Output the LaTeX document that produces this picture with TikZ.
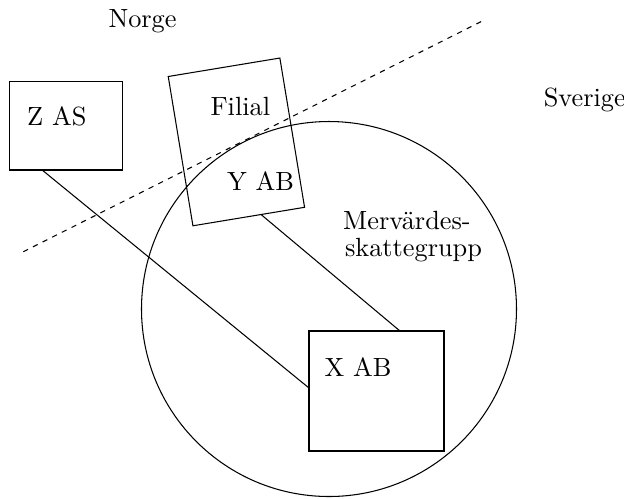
\documentclass[tikz,border=0pt]{standalone}
\usepackage{tikz}
\usetikzlibrary{calc,positioning}
\tikzstyle{block} = [draw, rectangle, inner sep=0pt, outer sep=0pt]
\tikzstyle{momsgrupp} = [draw, circle, inner sep=0pt, outer sep=0pt]
\tikzstyle{txt} = [inner sep=0pt, anchor=base west]
\tikzstyle{landgrans} = [dash pattern=on 2pt off 2.1pt]

\begin{document}
\begin{tikzpicture}[x=0.38pt, y=-0.38pt, thin]
\useasboundingbox (0,0) rectangle (624,498);

\node [momsgrupp, minimum size=142.5pt] (grupp) at (329,309) {};
\node [block, minimum width=42.9pt, minimum height=33.8pt] (zas) at (65.8,125.5) {};
\node [block, minimum width=43pt, minimum height=57.5pt, rotate=9.4] (filial) at (236.4,141.9) {};
\node [block, minimum width=51.3pt, minimum height=45.6pt] (xab) at (376.5,391) {};

\node [txt] (zastext) at (26.7,125.7) {Z AS};
\node [txt] (filialtext) at (210,115.7) {Filial};
\node [txt] (yabtext) at (226.7,190.7) {Y AB};
\node [txt] (xabtext) at (324,376.7) {X AB};
\node [txt] (merv) at (342.7,229) {Mervärdes-};
\node [txt] (skatt) at (344.5,256.7) {skattegrupp};

\node [txt] (norge) at (108,27.3) {Norge};
\node [txt] (sverige) at (543.3,106.7) {Sverige};

% gransen mellan Norge och Sverige
\coordinate (gransV) at (23.3,251.7);
\coordinate (gransO) at (484.3,20);
\draw [landgrans] (gransV) -- (gransO);

\draw ($(zas.south west)!0.29!(zas.south east)$) -- ($(xab.north west)!0.475!(xab.south west)$);
\draw ($(filial.south west)!0.61!(filial.south east)$) -- ($(xab.north west)!0.674!(xab.north east)$);

\end{tikzpicture}
\end{document}
